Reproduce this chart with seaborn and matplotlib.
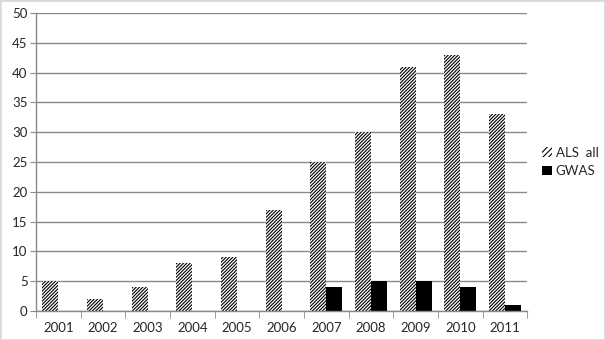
import matplotlib
matplotlib.use("Agg")
import matplotlib.pyplot as plt
import seaborn as sns
import pandas as pd
import numpy as np

years = ["2001", "2002", "2003", "2004", "2005", "2006",
         "2007", "2008", "2009", "2010", "2011"]
als_all = [5, 2, 4, 8, 9, 17, 25, 30, 41, 43, 33]
gwas = [0, 0, 0, 0, 0, 0, 4, 5, 5, 4, 1]
series_names = ["ALS  all", "GWAS"]

df = pd.DataFrame({
    "year": years * 2,
    "count": als_all + gwas,
    "series": [series_names[0]] * len(years) + [series_names[1]] * len(years),
})

sns.set_style("white")
plt.rcParams["font.family"] = ["Lato", "DejaVu Sans"]
plt.rcParams["hatch.linewidth"] = 0.8

fig = plt.figure(figsize=(6.05, 3.4), dpi=100)
ax = fig.add_axes([0.0595, 0.085, 0.812, 0.877])

sns.barplot(data=df, x="year", y="count", hue="series",
            palette=["white", "black"], width=0.72, gap=0,
            edgecolor="black", linewidth=0, saturation=1, ax=ax)

hatch = "/" * 10
for bar in ax.containers[0]:
    bar.set_hatch(hatch)

ax.set_ylim(0, 50)
ax.set_yticks(range(0, 51, 5))
ax.set_xlim(-0.5, len(years) - 0.5)
ax.set_xlabel("")
ax.set_ylabel("")
ax.yaxis.grid(True, color="#8a8a8a", linewidth=1)
ax.set_axisbelow(True)

for side in ("top", "right"):
    ax.spines[side].set_visible(False)
for side in ("left", "bottom"):
    ax.spines[side].set_color("#8a8a8a")
    ax.spines[side].set_linewidth(1)

ax.set_xticks(np.arange(-0.5, len(years)), minor=True)
ax.tick_params(axis="x", which="major", length=0, pad=8, labelsize=9.5)
ax.tick_params(axis="x", which="minor", length=5, color="#8a8a8a", direction="out")
ax.tick_params(axis="y", length=4, color="#8a8a8a", direction="out", labelsize=9.5, pad=2)
ax.yaxis.set_tick_params(left=True)
ax.xaxis.set_tick_params(bottom=True, which="both")

leg = ax.legend(loc="center left", bbox_to_anchor=(1.02, 0.5), frameon=False,
                fontsize=9.5, handlelength=0.7, handleheight=0.7,
                handletextpad=0.3, labelspacing=0.5, borderaxespad=0)
leg.legend_handles[0].set_hatch("/" * 6)
leg.legend_handles[0].set_linewidth(0)

fig.patches.append(plt.Rectangle((0.0, 0.0), 1, 1, transform=fig.transFigure,
                                 fill=False, edgecolor="#d9d9d9", linewidth=2))

fig.savefig("out.png", dpi=100)
